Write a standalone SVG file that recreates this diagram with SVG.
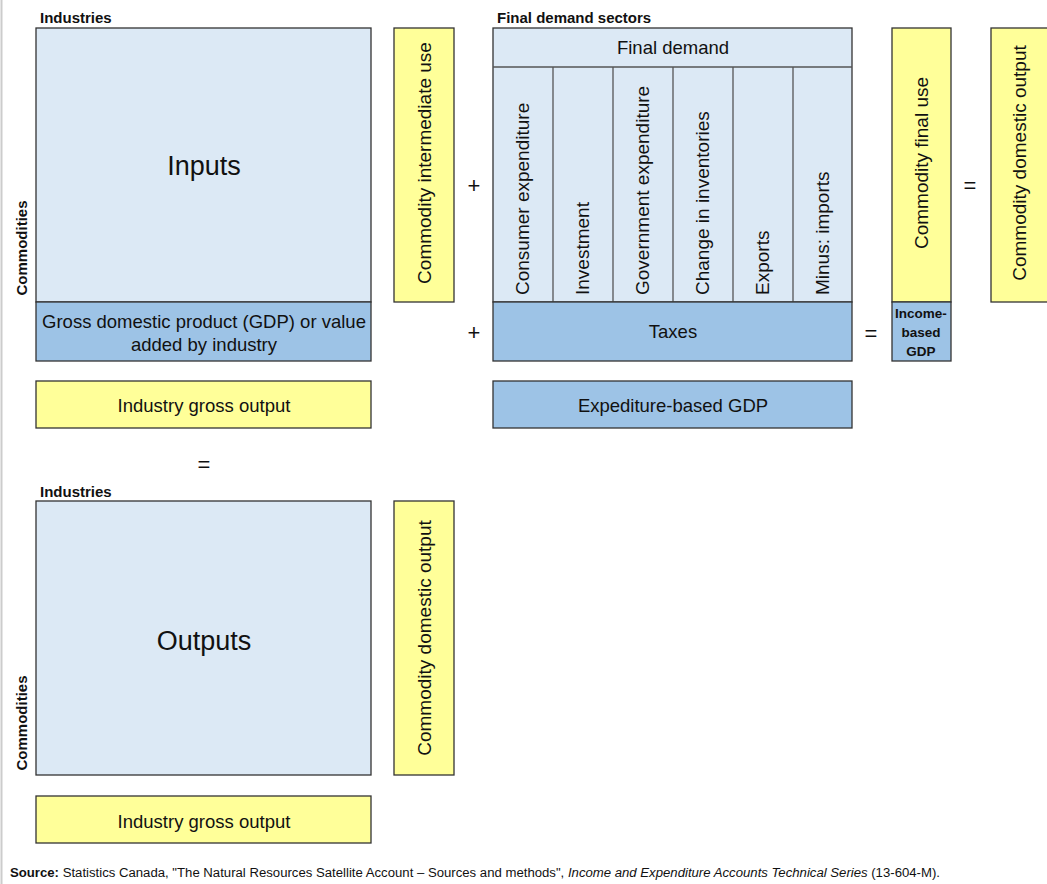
<svg xmlns="http://www.w3.org/2000/svg" width="1047" height="884" viewBox="0 0 1047 884">
<style>
text{font-family:"Liberation Sans",Arial,sans-serif;fill:#111}
.lb{fill:#dce9f5;stroke:#333;stroke-width:1.3}
.mb{fill:#9dc3e6;stroke:#333;stroke-width:1.3}
.ye{fill:#ffff99;stroke:#333;stroke-width:1.3}
.div{stroke:#555;stroke-width:1.3}
.t17{font-size:18.5px}
.r19{font-size:19px}
.hd{font-size:15px;font-weight:bold}
.big{font-size:27px}
.op{font-size:22px}
.c{text-anchor:middle}
</style>
<rect x="0" y="0" width="1047" height="884" fill="#fff"/>
<line x1="1.5" y1="0" x2="1.5" y2="884" stroke="#ccc" stroke-width="2"/>

<g id="inputs">
<text x="40" y="23" class="hd">Industries</text>
<rect x="36" y="28" width="335" height="274" class="lb"/>
<text x="204" y="175" class="big c">Inputs</text>
<text transform="translate(27,248) rotate(-90)" class="hd c">Commodities</text>
</g>
<g id="gdp-industry">
<rect x="36" y="302" width="335" height="59" class="mb"/>
<text x="204" y="328" class="t17 c">Gross domestic product (GDP) or value</text>
<text x="204" y="351" class="t17 c">added by industry</text>
</g>
<g id="industry-gross-output-1">
<rect x="36" y="381" width="335" height="47" class="ye"/>
<text x="204" y="412" class="t17 c">Industry gross output</text>
</g>
<g id="commodity-intermediate-use">
<rect x="394" y="28" width="60" height="274" class="ye"/>
<text transform="translate(431,163) rotate(-90)" class="r19 c">Commodity intermediate use</text>
</g>
<g id="final-demand">
<text x="497" y="23" class="hd">Final demand sectors</text>
<rect x="493" y="28" width="359" height="274" class="lb"/>
<line x1="493" y1="67" x2="852" y2="67" class="div"/>
<line x1="553" y1="67" x2="553" y2="302" class="div"/>
<line x1="613" y1="67" x2="613" y2="302" class="div"/>
<line x1="673" y1="67" x2="673" y2="302" class="div"/>
<line x1="733" y1="67" x2="733" y2="302" class="div"/>
<line x1="793" y1="67" x2="793" y2="302" class="div"/>
<text x="673" y="54" class="t17 c">Final demand</text>
<text transform="translate(529,295) rotate(-90)" class="r19">Consumer expenditure</text>
<text transform="translate(589,295) rotate(-90)" class="r19">Investment</text>
<text transform="translate(649,295) rotate(-90)" class="r19">Government expenditure</text>
<text transform="translate(709,295) rotate(-90)" class="r19">Change in inventories</text>
<text transform="translate(769,295) rotate(-90)" class="r19">Exports</text>
<text transform="translate(829,295) rotate(-90)" class="r19">Minus: imports</text>
</g>
<g id="taxes">
<rect x="493" y="302" width="359" height="59" class="mb"/>
<text x="673" y="338" class="t17 c">Taxes</text>
</g>
<g id="expenditure-gdp">
<rect x="493" y="381" width="359" height="47" class="mb"/>
<text x="673" y="412" class="t17 c">Expediture-based GDP</text>
</g>
<g id="commodity-final-use">
<rect x="892" y="28" width="59" height="274" class="ye"/>
<text transform="translate(928,163) rotate(-90)" class="r19 c">Commodity final use</text>
</g>
<g id="income-gdp">
<rect x="892" y="302" width="59" height="59" class="mb"/>
<text x="921" y="318" class="c" font-size="13.5" font-weight="bold">Income-</text>
<text x="921" y="337" class="c" font-size="13.5" font-weight="bold">based</text>
<text x="921" y="356" class="c" font-size="13.5" font-weight="bold">GDP</text>
</g>
<g id="commodity-domestic-output-1">
<rect x="991" y="28" width="60" height="274" class="ye"/>
<text transform="translate(1026,163) rotate(-90)" class="r19 c">Commodity domestic output</text>
</g>

<g id="operators">
<text x="474" y="193" class="op c">+</text>
<text x="474" y="340" class="op c">+</text>
<text x="871" y="341" class="op c">=</text>
<text x="970" y="193" class="op c">=</text>
<text x="204" y="472" class="op c">=</text>
</g>

<g id="outputs">
<text x="40" y="497" class="hd">Industries</text>
<rect x="36" y="501" width="335" height="274" class="lb"/>
<text x="204" y="650" class="big c">Outputs</text>
<text transform="translate(27,723) rotate(-90)" class="hd c">Commodities</text>
</g>
<g id="commodity-domestic-output-2">
<rect x="394" y="501" width="60" height="274" class="ye"/>
<text transform="translate(431,638) rotate(-90)" class="r19 c">Commodity domestic output</text>
</g>
<g id="industry-gross-output-2">
<rect x="36" y="796" width="335" height="47" class="ye"/>
<text x="204" y="828" class="t17 c">Industry gross output</text>
</g>

<g id="connectors"></g>

<text x="10" y="877" font-size="12.5" textLength="930" lengthAdjust="spacingAndGlyphs" style="font-family:'Liberation Sans Narrow','Liberation Sans',sans-serif"><tspan font-weight="bold">Source:</tspan> Statistics Canada, "The Natural Resources Satellite Account – Sources and methods", <tspan font-style="italic">Income and Expenditure Accounts Technical Series</tspan> (13-604-M).</text>
</svg>
